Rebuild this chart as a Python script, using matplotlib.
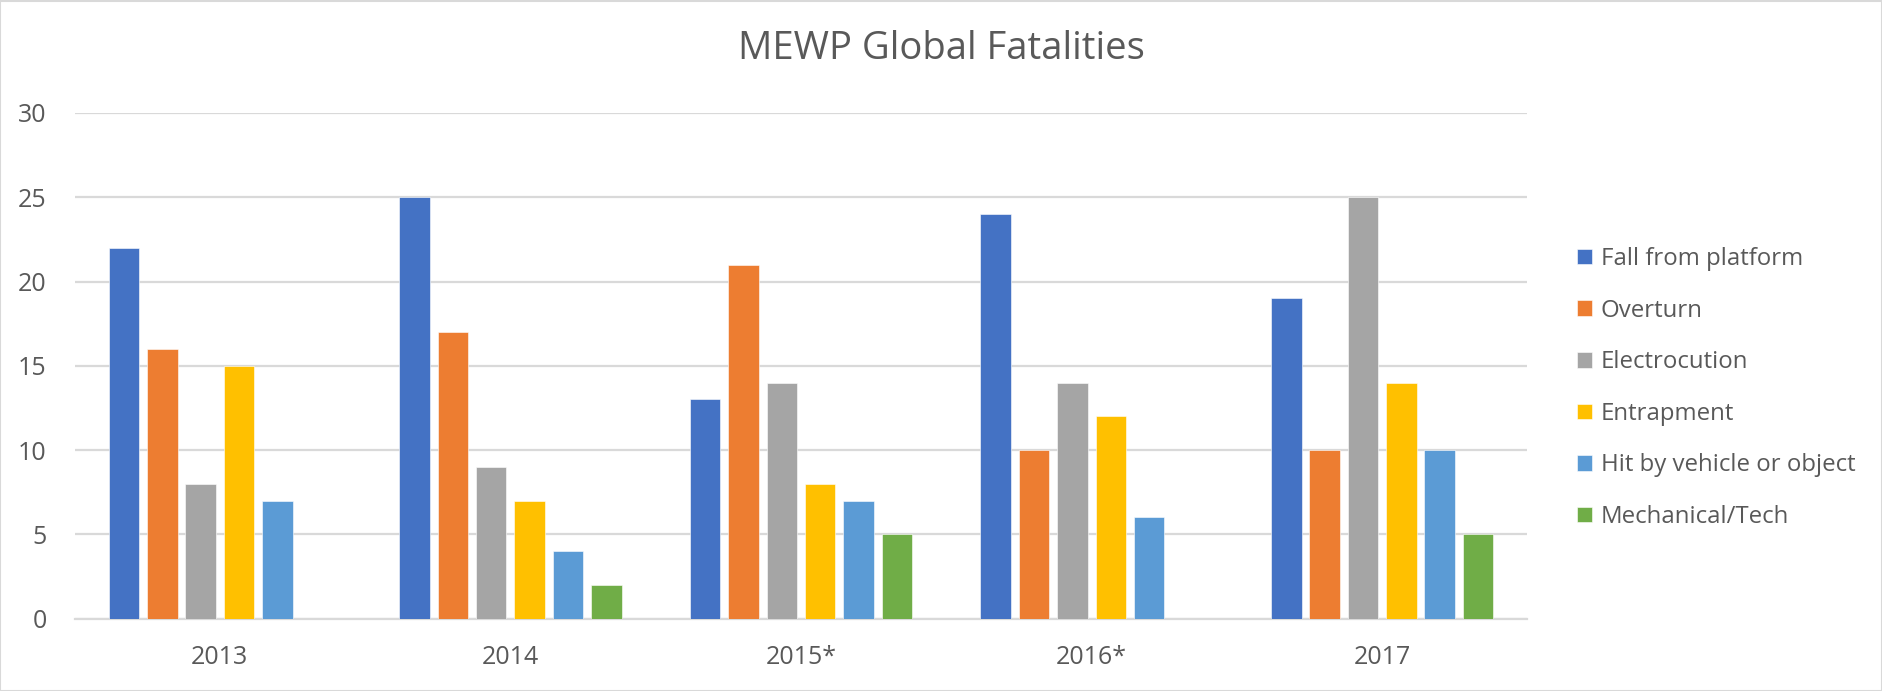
import matplotlib
matplotlib.use("Agg")
import matplotlib.pyplot as plt
import numpy as np
from matplotlib.patches import Rectangle

years = ["2013", "2014", "2015*", "2016*", "2017"]
series_names = ["Fall from platform", "Overturn", "Electrocution", "Entrapment",
                "Hit by vehicle or object", "Mechanical/Tech"]
fall = [22, 25, 13, 24, 19]
overturn = [16, 17, 21, 10, 10]
electrocution = [8, 9, 14, 14, 25]
entrapment = [15, 7, 8, 12, 14]
hit = [7, 4, 7, 6, 10]
mechanical = [0, 2, 5, 0, 5]
series_values = [fall, overturn, electrocution, entrapment, hit, mechanical]
colors = ["#4472C4", "#ED7D31", "#A5A5A5", "#FFC000", "#5B9BD5", "#70AD47"]

plt.rcParams['font.family'] = ['Open Sans', 'DejaVu Sans']
W, H = 1883, 691
fig = plt.figure(figsize=(W / 100, H / 100), dpi=100)
ax = fig.add_axes([74.5 / W, 1 - 618.5 / H, (1527.5 - 74.5) / W, (618.5 - 113) / H])

x = np.arange(len(years))
step = 0.132
width = 0.105
n = len(series_values)
handles = []
for i, (vals, c, name) in enumerate(zip(series_values, colors, series_names)):
    offs = (i - (n - 1) / 2) * step
    b = ax.bar(x + offs, vals, width=width, color=c, label=name, zorder=3,
               edgecolor='white', linewidth=0.4)
    handles.append(b)

ax.set_xlim(-0.5, len(years) - 0.5)
ax.set_ylim(0, 30)
ax.set_yticks(range(0, 31, 5))
ax.set_xticks(x)
ax.set_xticklabels(years)
ax.yaxis.grid(True, color="#D9D9D9", linewidth=1.6, zorder=0)
ax.set_axisbelow(True)
for s in ["top", "right", "left"]:
    ax.spines[s].set_visible(False)
ax.spines["bottom"].set_color("#D9D9D9")
ax.spines["bottom"].set_linewidth(1.6)
ax.tick_params(axis='both', length=0, labelsize=18, labelcolor="#595959")
ax.tick_params(axis='y', pad=20)
ax.tick_params(axis='x', pad=19)

fig.text(0.5, 1 - 49 / H, "MEWP Global Fatalities", ha='center', va='center',
         fontsize=27.5, color="#595959")

fig.legend(handles=handles, labels=series_names, loc='center left',
           bbox_to_anchor=(1577 / W, 1 - 388 / H), frameon=False,
           borderaxespad=0, borderpad=0, fontsize=17.3, labelcolor="#595959",
           handlelength=0.625, handleheight=0.625, handletextpad=0.36,
           labelspacing=1.15)

fig.patches.append(Rectangle((0.5 / W, 0.5 / H), 1 - 1.5 / W, 1 - 1.5 / H,
                             transform=fig.transFigure, fill=False,
                             edgecolor="#D9D9D9", linewidth=1.5))

fig.savefig("out.png", dpi=100)
